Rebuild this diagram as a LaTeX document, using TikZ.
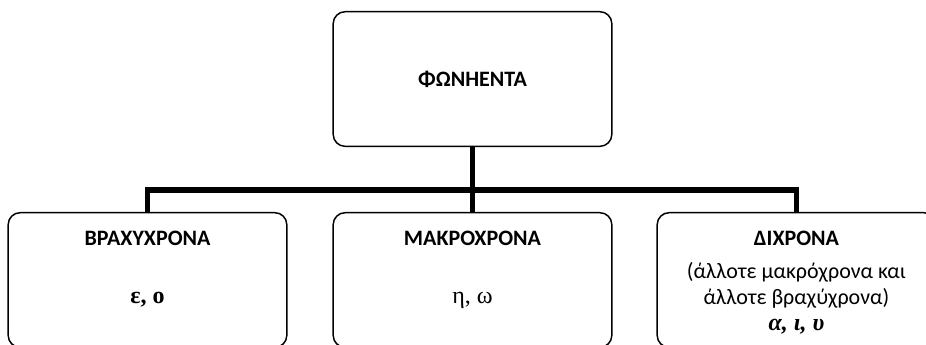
\documentclass[tikz,border=0pt]{standalone}
\usepackage{fontspec}
\setmainfont{Carlito}
\newfontfamily\grserif{Liberation Serif}
\usetikzlibrary{positioning}

\tikzset{
  box/.style={draw, rounded corners=9pt, line width=1.1pt, minimum width=209pt, minimum height=101pt, inner sep=0pt},
  conn/.style={line width=3.8pt},
  title/.style={font=\bfseries\fontsize{16.5}{19}\selectfont, inner sep=0pt},
  body/.style={font=\fontsize{16.5}{19.5}\selectfont, inner sep=0pt},
  letters/.style={font=\grserif\fontsize{18}{20}\selectfont, inner sep=0pt}
}

\begin{document}
\begin{tikzpicture}[x=0.75pt, y=-0.75pt]
        \useasboundingbox (0, 0) rectangle (926, 344);
        \clip (0, 0) rectangle (926, 344);

        \node[box] (root) at (472.5, 79) {};
        \node[title] (rootlbl) at (root.center) {ΦΩΝΗΕΝΤΑ};

        \node[box] (brachy) at (147.5, 280) {};
        \node[box] (makro) at (472.5, 280) {};
        \node[box] (dichr) at (796.5, 280) {};

        \coordinate (bar) at (472.5, 190);
        \draw[conn] (root.south) -- (bar);
        \draw[conn] (brachy.north) |- (bar) -| (dichr.north);
        \draw[conn] (bar) -- (makro.north);

        \node[title] (brachylbl) at (147.5, 238) {ΒΡΑΧΥΧΡΟΝΑ};
        \node[letters] (brachyv) at (147.5, 300) {\bfseries ε, ο};

        \node[title] (makrolbl) at (472.5, 238) {ΜΑΚΡΟΧΡΟΝΑ};
        \node[letters] (makrov) at (472.5, 300) {η, ω};

        \node[title] (dichrlbl) at (796.5, 238) {ΔΙΧΡΟΝΑ};
        \node[body, align=center] (dichrtxt) at (796.5, 285) {(άλλοτε μακρόχρονα και\\άλλοτε βραχύχρονα)};
        \node[letters] (dichrv) at (796.5, 327) {\bfseries\itshape α, ι, υ};
\end{tikzpicture}
\end{document}
